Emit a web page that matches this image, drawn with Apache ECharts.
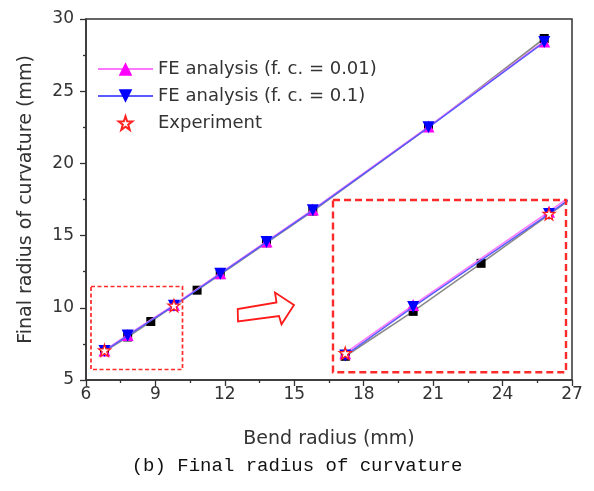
<!DOCTYPE html>
<html>
<head>
<meta charset="utf-8">
<script src="https://cdn.jsdelivr.net/npm/echarts@6/dist/echarts.min.js"></script>
<style>html,body{margin:0;padding:0;background:#fff;}#c{width:594px;height:491px;}</style>
</head>
<body>
<div id="c"></div>
<script>
// ---- data ----
var xTicks = [6, 9, 12, 15, 18, 21, 24, 27];
var yTicks = [5, 10, 15, 20, 25, 30];
var feX = [6.8, 7.8, 9.8, 11.8, 13.8, 15.8, 20.8, 25.8];
var fe001 = [7.05, 8.12, 10.2, 12.4, 14.6, 16.8, 22.55, 28.45];
var fe01 = [7.0, 8.08, 10.15, 12.35, 14.55, 16.75, 22.5, 28.4];
var expX = [6.8, 9.8];
var expY = [7.05, 10.15];
var refX = [6.8, 7.8, 8.8, 10.8, 11.8, 13.8, 15.8, 20.8, 25.8];
var refY = [6.98, 7.98, 9.05, 11.22, 12.3, 14.5, 16.7, 22.5, 28.65];
var names = ['FE analysis (f. c. = 0.01)', 'FE analysis (f. c. = 0.1)', 'Experiment'];
var xTitle = 'Bend radius (mm)';
var yTitle = 'Final radius of curvature (mm)';
var caption = '(b) Final radius of curvature';

function zip(a, b) { return a.map(function (v, i) { return [v, b[i]]; }); }

var STAR = 'path://M50,0 L61.8,35.1 L98.9,35.3 L69.1,57.4 L80.3,92.7 L50,71.3 L19.7,92.7 L30.9,57.4 L1.1,35.3 L38.2,35.1 Z';
var FONT = 'DejaVu Sans';
var TXT = '#333';

function makeSeries(gi, suffix) {
  return [
    { name: 'ref' + suffix, type: 'line', xAxisIndex: gi, yAxisIndex: gi, data: zip(refX, refY),
      symbol: 'rect', symbolSize: 9, itemStyle: { color: '#000' },
      lineStyle: { color: '#8a8a8a', width: 1.6 }, z: 2, animation: false },
    { name: names[0] + suffix, type: 'line', xAxisIndex: gi, yAxisIndex: gi, data: zip(feX, fe001),
      symbol: 'triangle', symbolSize: 12, itemStyle: { color: '#ff00ff' },
      lineStyle: { color: '#ff77ff', width: 1.5 }, z: 3, animation: false },
    { name: names[1] + suffix, type: 'line', xAxisIndex: gi, yAxisIndex: gi, data: zip(feX, fe01),
      symbol: 'triangle', symbolRotate: 180, symbolSize: 12, itemStyle: { color: '#0000ff' },
      lineStyle: { color: '#5a5aff', width: 1.5 }, z: 4, animation: false },
    { name: names[2] + suffix, type: 'line', xAxisIndex: gi, yAxisIndex: gi, data: zip(expX, expY),
      symbol: STAR, symbolSize: 12, itemStyle: { color: '#fff', borderColor: '#ff2020', borderWidth: 1.3 },
      lineStyle: { opacity: 0, width: 0 }, z: 5, animation: false }
  ];
}

var chart = echarts.init(document.getElementById('c'), null, { renderer: 'canvas' });
var option = {
  backgroundColor: '#fff',
  animation: false,
  grid: [
    { left: 86, top: 19, right: 22, bottom: 111, show: true, borderColor: '#333', borderWidth: 1.5, backgroundColor: 'transparent' },
    { left: 333, top: 200, width: 233, height: 172 }
  ],
  legend: {
    data: names, orient: 'vertical', left: 92, top: 55,
    itemWidth: 55, itemHeight: 17, itemGap: 9,
    textStyle: { fontFamily: FONT, fontSize: 18, color: TXT },
    selectedMode: false
  },
  xAxis: [
    { type: 'value', gridIndex: 0, min: xTicks[0], max: xTicks[xTicks.length - 1], interval: 3,
      name: xTitle, nameLocation: 'middle', nameGap: 50,
      nameTextStyle: { fontFamily: FONT, fontSize: 19, color: TXT },
      axisLine: { lineStyle: { color: '#333', width: 1.5 } },
      axisTick: { show: true, length: 6, lineStyle: { color: '#333', width: 1.3 } },
      minorTick: { show: true, splitNumber: 2, length: 3, lineStyle: { color: '#333', width: 1.3 } },
      splitLine: { show: false },
      axisLabel: { fontFamily: FONT, fontSize: 17, color: TXT, margin: 6 } },
    { type: 'value', gridIndex: 1, min: 6.62, max: 10.05, show: false }
  ],
  yAxis: [
    { type: 'value', gridIndex: 0, min: yTicks[0], max: yTicks[yTicks.length - 1], interval: 5,
      name: yTitle, nameLocation: 'middle', nameGap: 50, nameRotate: 90,
      nameTextStyle: { fontFamily: FONT, fontSize: 19, color: TXT },
      axisLine: { lineStyle: { color: '#333', width: 1.5 } },
      axisTick: { show: true, length: 6, lineStyle: { color: '#333', width: 1.3 } },
      minorTick: { show: true, splitNumber: 2, length: 3, lineStyle: { color: '#333', width: 1.3 } },
      splitLine: { show: false },
      axisLabel: { fontFamily: FONT, fontSize: 17, color: TXT, margin: 12 } },
    { type: 'value', gridIndex: 1, min: 6.63, max: 10.46, show: false }
  ],
  series: makeSeries(0, '').concat(makeSeries(1, ' (inset)')),
  graphic: [
    { type: 'rect', shape: { x: 91, y: 286.5, width: 91.5, height: 83 },
      style: { fill: null, stroke: '#ff2a2a', lineWidth: 1.7, lineDash: [4, 2.5] }, z: 10 },
    { type: 'rect', shape: { x: 333, y: 200, width: 233, height: 172.3 },
      style: { fill: null, stroke: '#ff2a2a', lineWidth: 2.4, lineDash: [7, 4] }, z: 10 },
    { type: 'polygon', shape: { points: [[238, 321.5], [237.7, 309], [276.5, 302.5], [275, 292.5], [294, 305], [281.5, 324.3], [279, 316]] },
      style: { fill: '#fff', stroke: '#ff1a1a', lineWidth: 1.8 }, z: 10 },
    { type: 'text', left: 'center', top: 456,
      style: { text: caption, fontFamily: 'Liberation Mono', fontSize: 19, fill: '#111' }, z: 10 }
  ]
};
chart.setOption(option);
</script>
</body>
</html>
